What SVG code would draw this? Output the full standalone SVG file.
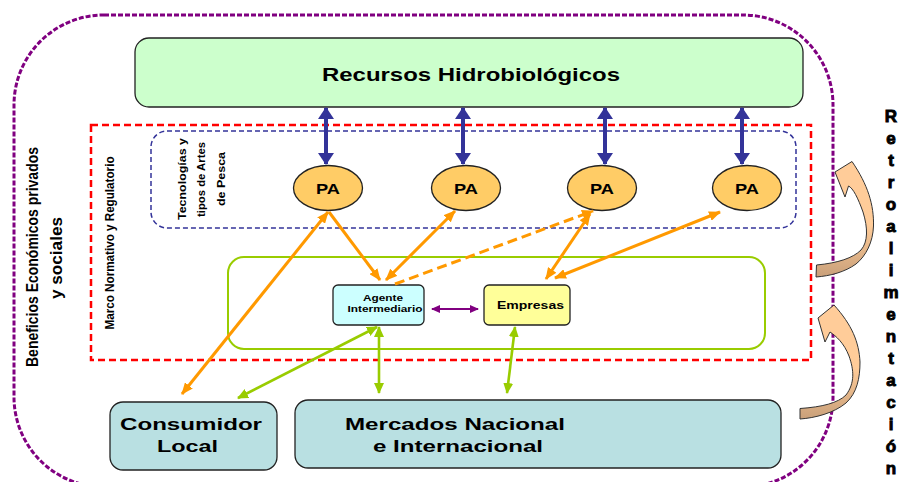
<svg xmlns="http://www.w3.org/2000/svg" width="901" height="482" viewBox="0 0 901 482">
<defs>
<style>
text{font-family:"Liberation Sans",Arial,sans-serif;font-weight:bold;fill:#000}
.box{stroke:#222;stroke-width:1.3}
.or{stroke:#ff9900;stroke-width:3;fill:none}
.gr{stroke:#99cc00;stroke-width:2.6;fill:none}
.bl{stroke:#333399;stroke-width:4;fill:none}
.pu{stroke:#800080;stroke-width:2;fill:none}
.retro text{stroke:#000;stroke-width:0.9}
</style>
<marker id="mo" markerUnits="userSpaceOnUse" markerWidth="12" markerHeight="10" viewBox="0 0 12 10" refX="11" refY="5" orient="auto-start-reverse"><path d="M0,0 L12,5 L0,10 z" fill="#ff9900"/></marker>
<marker id="mg" markerUnits="userSpaceOnUse" markerWidth="11" markerHeight="10" viewBox="0 0 11 10" refX="10" refY="5" orient="auto-start-reverse"><path d="M0,0 L11,5 L0,10 z" fill="#99cc00"/></marker>
<marker id="mb" markerUnits="userSpaceOnUse" markerWidth="12" markerHeight="16" viewBox="0 0 12 16" refX="11" refY="8" orient="auto-start-reverse"><path d="M0,0 L12,8 L0,16 z" fill="#333399"/></marker>
<marker id="mp" markerUnits="userSpaceOnUse" markerWidth="9" markerHeight="8" viewBox="0 0 9 8" refX="8" refY="4" orient="auto-start-reverse"><path d="M0,0 L9,4 L0,8 z" fill="#800080"/></marker>
<linearGradient id="peach" x1="0" y1="0" x2="0" y2="1">
<stop offset="0" stop-color="#ffcc99"/><stop offset="0.55" stop-color="#ffcc99"/><stop offset="1" stop-color="#c9a07a"/>
</linearGradient>
</defs>
<rect width="901" height="482" fill="#fff"/>

<g id="frame-beneficios">
<rect x="14" y="15" width="819" height="472" rx="90" ry="90" fill="none" stroke="#800080" stroke-width="3" stroke-dasharray="5,2"/>
<text transform="translate(38,257) rotate(-90)" text-anchor="middle" font-size="16" textLength="220" lengthAdjust="spacingAndGlyphs">Beneficios Económicos privados</text>
<text transform="translate(62,258) rotate(-90)" text-anchor="middle" font-size="16" textLength="82" lengthAdjust="spacingAndGlyphs">y sociales</text>
</g>

<g id="marco">
<rect x="91" y="125" width="720" height="235" fill="none" stroke="#ff0000" stroke-width="2.5" stroke-dasharray="7,4"/>
<text transform="translate(114,243) rotate(-90)" text-anchor="middle" font-size="12" textLength="173" lengthAdjust="spacingAndGlyphs">Marco Normativo y Regulatorio</text>
</g>

<g id="tecnologias">
<rect x="151" y="131" width="645" height="97" rx="16" ry="16" fill="none" stroke="#333399" stroke-width="1.5" stroke-dasharray="5,3"/>
<text transform="translate(186,179) rotate(-90)" text-anchor="middle" font-size="11" textLength="82" lengthAdjust="spacingAndGlyphs">Tecnologías y</text>
<text transform="translate(205,179.5) rotate(-90)" text-anchor="middle" font-size="11" textLength="75" lengthAdjust="spacingAndGlyphs">tipos de Artes</text>
<text transform="translate(225,179) rotate(-90)" text-anchor="middle" font-size="11" textLength="54" lengthAdjust="spacingAndGlyphs">de Pesca</text>
</g>

<g id="mercado-frame">
<rect x="228" y="257" width="537" height="92" rx="16" ry="16" fill="none" stroke="#99cc00" stroke-width="2"/>
</g>

<g id="recursos">
<rect class="box" x="135" y="38" width="668" height="69" rx="14" ry="14" fill="#ccffcc"/>
<text x="471" y="81" text-anchor="middle" font-size="18" textLength="298" lengthAdjust="spacingAndGlyphs">Recursos Hidrobiológicos</text>
</g>

<g id="pa1"><ellipse class="box" cx="328" cy="188" rx="34.5" ry="22.5" fill="#ffcc66"/><text x="328" y="193.5" text-anchor="middle" font-size="14" textLength="24" lengthAdjust="spacingAndGlyphs">PA</text></g>
<g id="pa2"><ellipse class="box" cx="466" cy="188" rx="34.5" ry="22.5" fill="#ffcc66"/><text x="466" y="193.5" text-anchor="middle" font-size="14" textLength="24" lengthAdjust="spacingAndGlyphs">PA</text></g>
<g id="pa3"><ellipse class="box" cx="602" cy="188" rx="34.5" ry="22.5" fill="#ffcc66"/><text x="602" y="193.5" text-anchor="middle" font-size="14" textLength="24" lengthAdjust="spacingAndGlyphs">PA</text></g>
<g id="pa4"><ellipse class="box" cx="747" cy="188" rx="34.5" ry="22.5" fill="#ffcc66"/><text x="747" y="193.5" text-anchor="middle" font-size="14" textLength="24" lengthAdjust="spacingAndGlyphs">PA</text></g>

<g id="agente">
<rect class="box" x="333" y="285" width="91" height="40" rx="5" ry="5" fill="#ccffff"/>
<text x="383" y="301" text-anchor="middle" font-size="9" textLength="40" lengthAdjust="spacingAndGlyphs">Agente</text>
<text x="385" y="312" text-anchor="middle" font-size="9" textLength="75" lengthAdjust="spacingAndGlyphs">Intermediario</text>
</g>

<g id="empresas">
<rect class="box" x="484" y="285" width="86" height="40" rx="5" ry="5" fill="#ffff99"/>
<text x="530.5" y="309" text-anchor="middle" font-size="11.5" textLength="67" lengthAdjust="spacingAndGlyphs">Empresas</text>
</g>

<g id="consumidor">
<rect class="box" x="110" y="402" width="167" height="68" rx="13" ry="13" fill="#b9e0e2"/>
<text x="191" y="430" text-anchor="middle" font-size="17" textLength="142" lengthAdjust="spacingAndGlyphs">Consumidor</text>
<text x="187.5" y="452" text-anchor="middle" font-size="17" textLength="61" lengthAdjust="spacingAndGlyphs">Local</text>
</g>

<g id="mercados">
<rect class="box" x="295" y="400" width="486" height="68" rx="13" ry="13" fill="#b9e0e2"/>
<text x="455" y="430" text-anchor="middle" font-size="17" textLength="220" lengthAdjust="spacingAndGlyphs">Mercados Nacional</text>
<text x="458" y="452" text-anchor="middle" font-size="17" textLength="170" lengthAdjust="spacingAndGlyphs">e Internacional</text>
</g>

<g id="connectors">
<line class="bl" x1="326" y1="108" x2="326" y2="164" marker-start="url(#mb)" marker-end="url(#mb)"/>
<line class="bl" x1="463" y1="108" x2="463" y2="164" marker-start="url(#mb)" marker-end="url(#mb)"/>
<line class="bl" x1="605" y1="108" x2="605" y2="164" marker-start="url(#mb)" marker-end="url(#mb)"/>
<line class="bl" x1="742" y1="108" x2="742" y2="164" marker-start="url(#mb)" marker-end="url(#mb)"/>

<line class="or" x1="328" y1="212" x2="182" y2="394" marker-start="url(#mo)" marker-end="url(#mo)"/>
<line class="or" x1="329" y1="212" x2="380" y2="280" marker-end="url(#mo)"/>
<line class="or" x1="455" y1="211" x2="386" y2="280" marker-start="url(#mo)" marker-end="url(#mo)"/>
<line class="or" x1="395" y1="284" x2="593" y2="211" stroke-dasharray="10,5" marker-end="url(#mo)"/>
<line class="or" x1="590" y1="214" x2="546" y2="279" marker-start="url(#mo)" marker-end="url(#mo)"/>
<line class="or" x1="720" y1="212" x2="555" y2="278" marker-start="url(#mo)" marker-end="url(#mo)"/>

<line class="gr" x1="377" y1="327" x2="238" y2="398" marker-start="url(#mg)" marker-end="url(#mg)"/>
<line class="gr" x1="379" y1="327" x2="379" y2="393" marker-start="url(#mg)" marker-end="url(#mg)"/>
<line class="gr" x1="515" y1="327" x2="507" y2="393" marker-start="url(#mg)" marker-end="url(#mg)"/>

<line class="pu" x1="432" y1="309" x2="478" y2="309" marker-start="url(#mp)" marker-end="url(#mp)"/>
</g>

<g id="retro-arrow-1">
<path d="M852,161.5 L835,172 L845,197 L848.5,186 C853,188 858,198 863,212 C868,228 868,242 861,250 C853,258 838,263 816.5,265 L816,277 C830,276 845,272 856,264 C866,256 873,242 873.5,226 C874,205 868,185 852,161.5 Z" fill="url(#peach)" stroke="#333" stroke-width="1"/>
</g>
<g id="retro-arrow-2">
<path d="M834,305 L818,318 L825,342 L830,332 C836,336 844,343 849,356 C854,370 855,383 846,395 C838,403 822,407 800,408.5 L800,419 C815,418 834,413 846,403 C857,393 860,378 860,362 C859,342 852,325 834,305 Z" fill="url(#peach)" stroke="#333" stroke-width="1"/>
</g>

<g id="retroalimentacion" class="retro" font-size="17" text-anchor="middle">
<text x="891" y="122">R</text>
<text x="891" y="144">e</text>
<text x="891" y="166">t</text>
<text x="891" y="188">r</text>
<text x="891" y="210">o</text>
<text x="891" y="232">a</text>
<text x="891" y="254">l</text>
<text x="891" y="276">i</text>
<text x="891" y="298">m</text>
<text x="891" y="320">e</text>
<text x="891" y="342">n</text>
<text x="891" y="364">t</text>
<text x="891" y="386">a</text>
<text x="891" y="408">c</text>
<text x="891" y="430">i</text>
<text x="891" y="452">ó</text>
<text x="891" y="474">n</text>
</g>
</svg>
